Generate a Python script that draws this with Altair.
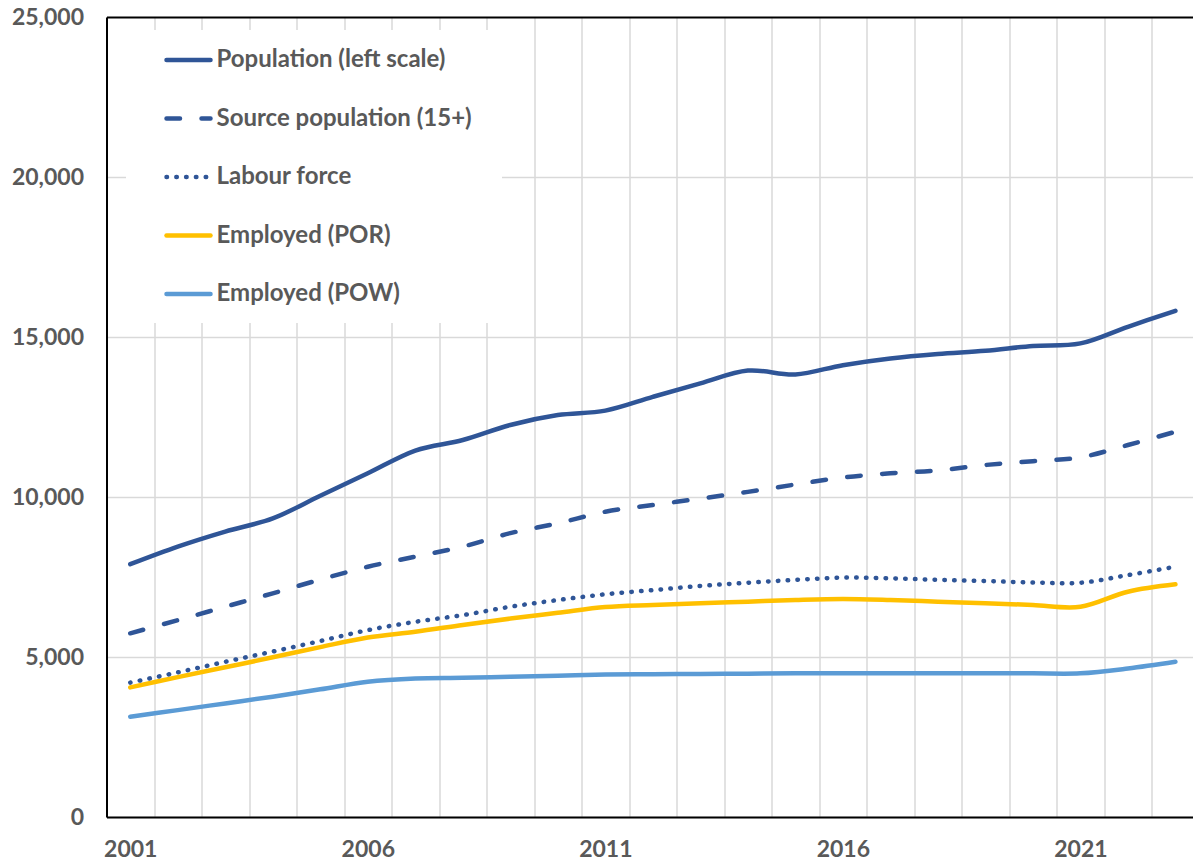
import altair as alt
import pandas as pd

# ---- data (thousands of people, 2001-2023) ----
years = list(range(2001, 2024))

population = [7900, 8450, 8920, 9330, 10040, 10740, 11450, 11780, 12250, 12560, 12700,
              13130, 13550, 13950, 13830, 14120, 14330, 14470, 14570, 14720, 14800,
              15320, 15820]
source_population = [5740, 6150, 6570, 6990, 7420, 7820, 8135, 8450, 8870, 9180, 9540,
                     9750, 9950, 10160, 10390, 10610, 10740, 10830, 11000, 11120, 11240,
                     11625, 12040]
labour_force = [4200, 4520, 4850, 5170, 5500, 5840, 6100, 6310, 6570, 6780, 6960,
                7090, 7220, 7320, 7410, 7480, 7460, 7410, 7375, 7330, 7320,
                7560, 7820]
employed_por = [4050, 4370, 4680, 4990, 5310, 5610, 5790, 6000, 6200, 6380, 6560,
                6625, 6680, 6730, 6780, 6810, 6780, 6730, 6680, 6625, 6570,
                7040, 7270]
employed_pow = [3135, 3340, 3550, 3760, 3990, 4230, 4330, 4350, 4385, 4415, 4450,
                4460, 4470, 4480, 4490, 4490, 4490, 4490, 4490, 4490, 4490,
                4640, 4850]

series_names = ["Population (left scale)", "Source population (15+)", "Labour force",
                "Employed (POR)", "Employed (POW)"]
series_colors = ["#2F5597", "#2F5597", "#2F5597", "#FFC000", "#5B9BD5"]
series_values = [population, source_population, labour_force, employed_por, employed_pow]

y_ticks = [0, 5000, 10000, 15000, 20000, 25000]

rows = []
for name, vals in zip(series_names, series_values):
    for yr, v in zip(years, vals):
        rows.append({"year": yr, "series": name, "value": v})
df = pd.DataFrame(rows)

# ---- styling ----
FONT = "Lato"
GREY = "#595959"
GRID = "#D9D9D9"
LINE_W = 4.5
W, H = 1086.5, 800
x_domain = [2000.5, 2023.37]
# one gridline between every pair of years
x_grid_values = [y + 0.5 for y in range(2000, 2023)]

x_enc = alt.X(
    "year:Q",
    title=None,
    scale=alt.Scale(domain=x_domain, nice=False, zero=False),
    axis=alt.Axis(
        values=x_grid_values,
        labelExpr="(datum.value - 2001.5) % 5 == 0 ? format(datum.value - 0.5, 'd') : ''",
        labelOffset=-23.75,
        labelOverlap=False,
        labelFlush=False,
        labelPadding=21,
        ticks=False,
        tickSize=0,
        grid=True,
        gridColor=GRID,
        gridWidth=1.5,
        domainColor="black",
        domainWidth=2,
    ),
)
y_enc = alt.Y(
    "value:Q",
    title=None,
    scale=alt.Scale(domain=[0, 25000], nice=False),
    axis=alt.Axis(
        values=y_ticks,
        format=",d",
        labelPadding=23,
        ticks=False,
        tickSize=0,
        grid=True,
        gridColor={"condition": {"test": "datum.value === 25000", "value": "black"},
                   "value": GRID},
        gridWidth={"condition": {"test": "datum.value === 25000", "value": 2},
                   "value": 1.5},
        domainColor="black",
        domainWidth=2,
    ),
)
color_enc = alt.Color(
    "series:N",
    scale=alt.Scale(domain=series_names, range=series_colors),
    legend=None,
)

DASHED = [13.5, 21.5]
DOTTED = [0.5, 9.3]

base = alt.Chart(df).encode(x=x_enc, y=y_enc, color=color_enc)
line_kw = dict(strokeWidth=LINE_W, strokeCap="round", strokeJoin="round", interpolate="cardinal")

solid = base.transform_filter(
    alt.FieldOneOfPredicate(field="series", oneOf=[series_names[0], series_names[3], series_names[4]])
).mark_line(**line_kw)
dashed = base.transform_filter(
    alt.FieldEqualPredicate(field="series", equal=series_names[1])
).mark_line(strokeDash=DASHED, **line_kw)
dotted = base.transform_filter(
    alt.FieldEqualPredicate(field="series", equal=series_names[2])
).mark_line(strokeDash=DOTTED, **line_kw)

lines = alt.layer(solid, dashed, dotted)

# ---- legend box in the upper-left corner ----
leg_df = pd.DataFrame({"series": series_names})
leg_y = alt.Y(
    "series:N",
    sort=series_names,
    scale=alt.Scale(type="point", range=[43, 277], padding=0),
    axis=None,
)
leg_bg = alt.Chart(pd.DataFrame({"k": [0]})).mark_rect(fill="white").encode(
    x=alt.value(19.5), x2=alt.value(395.5), y=alt.value(13), y2=alt.value(306)
)
leg_base = alt.Chart(leg_df).encode(y=leg_y, color=color_enc)
rule_kw = dict(strokeWidth=LINE_W, strokeCap="round")
leg_solid = leg_base.transform_filter(
    alt.FieldOneOfPredicate(field="series", oneOf=[series_names[0], series_names[3], series_names[4]])
).mark_rule(**rule_kw).encode(x=alt.value(60), x2=alt.value(104))
leg_dashed = leg_base.transform_filter(
    alt.FieldEqualPredicate(field="series", equal=series_names[1])
).mark_rule(strokeDash=DASHED, **rule_kw).encode(x=alt.value(60), x2=alt.value(104))
leg_dotted = leg_base.transform_filter(
    alt.FieldEqualPredicate(field="series", equal=series_names[2])
).mark_rule(strokeDash=DOTTED, **rule_kw).encode(x=alt.value(60), x2=alt.value(104))
leg_text = alt.Chart(leg_df).mark_text(
    align="left", baseline="middle", font=FONT, fontWeight="bold", fontSize=24, color=GREY
).encode(x=alt.value(110), y=leg_y, text="series:N")

legend = alt.layer(leg_bg, leg_solid, leg_dashed, leg_dotted, leg_text)

chart = (
    alt.layer(lines, legend)
    .resolve_scale(y="independent")
    .properties(
        width=W,
        height=H,
        autosize=alt.AutoSizeParams(type="none"),
        padding={"left": 106.5, "top": 17, "right": 0, "bottom": 44},
    )
    .configure_axis(
        labelFont=FONT,
        labelFontWeight="bold",
        labelFontSize=23,
        labelColor=GREY,
    )
    .configure_view(stroke="transparent")
)

chart.save("out.html", embed_options={"renderer": "svg", "actions": False})
